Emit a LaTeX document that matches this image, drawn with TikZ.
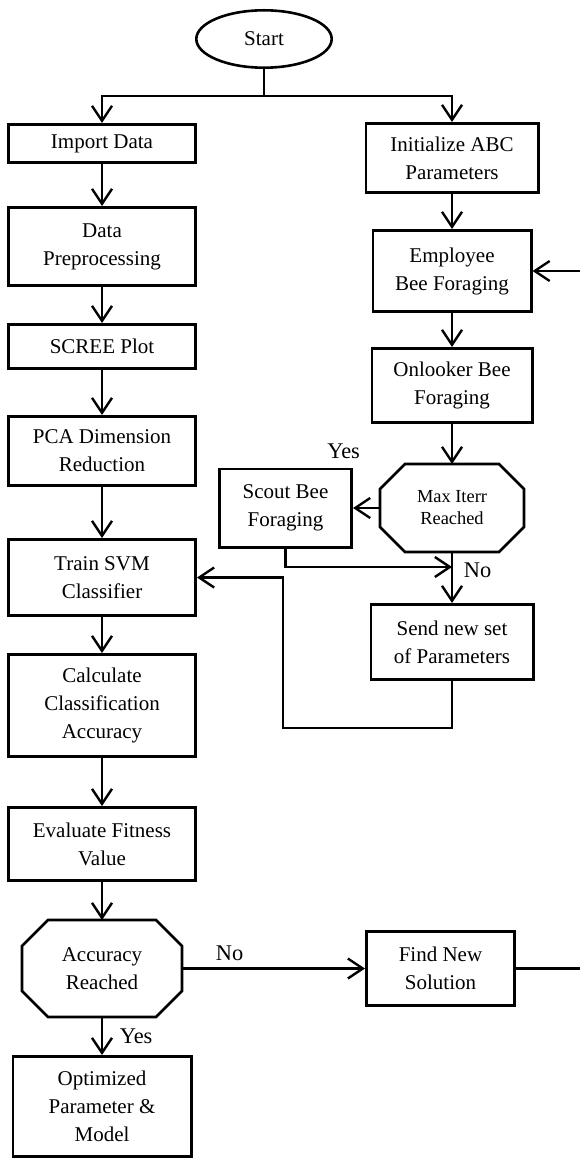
\documentclass[tikz,border=0pt]{standalone}
\usepackage{fontspec}
\setmainfont{Liberation Serif}
\usetikzlibrary{shapes.geometric, arrows.meta, positioning}

% eight-sided frame drawn on a plain node
\newcommand{\octframe}[2]{%
  \draw[line width=1.3pt] ([xshift=#2]#1.north west) -- ([xshift=-#2]#1.north east)
    -- ([yshift=-#2]#1.north east) -- ([yshift=#2]#1.south east)
    -- ([xshift=-#2]#1.south east) -- ([xshift=#2]#1.south west)
    -- ([yshift=#2]#1.south west) -- ([yshift=-#2]#1.north west) -- cycle;}

\begin{document}
\begin{tikzpicture}[
    node distance=1.0cm,
    process/.style={rectangle, draw=black, line width=1.3pt, minimum width=93.7pt, inner sep=1pt, align=center, font=\fontsize{10.5}{14}\selectfont},
    decision/.style={rectangle, line width=1.3pt, inner sep=1pt, align=center, font=\fontsize{10.5}{14}\selectfont},
    terminal/.style={ellipse, draw=black, line width=1.3pt, minimum width=67.7pt, minimum height=28.7pt, inner sep=0pt, font=\fontsize{10.5}{14}\selectfont},
    flow/.style={-{Straight Barb[length=7.5pt,width=10pt]}, line width=1.2pt},
    tag/.style={font=\fontsize{11.2}{13}\selectfont}
]
    \useasboundingbox (0,0) rectangle (289.5pt,-580pt);

    \node (start) [terminal] at (132pt,-19.5pt) {Start};
    \coordinate [below=13.5pt of start] (fork);

    % SVM side
    \node (import) [process, anchor=north, minimum height=19.2pt] at (51pt,-61.5pt) {Import Data};
    \node (prep) [process, below=21pt of import, minimum height=39.2pt] {Data\\Preprocessing};
    \node (scree) [process, below=18pt of prep, minimum height=22.2pt] {SCREE Plot};
    \node (pca) [process, below=22.5pt of scree, minimum height=34.7pt] {PCA Dimension\\Reduction};
    \node (svm) [process, below=25.5pt of pca, minimum height=38.2pt] {Train SVM\\Classifier};
    \node (acc) [process, below=18pt of svm, minimum height=51.2pt] {Calculate\\Classification\\Accuracy};
    \node (fit) [process, below=24pt of acc, minimum height=36.7pt] {Evaluate Fitness\\Value};
    \node (reached) [decision, below=19pt of fit, minimum width=78.7pt, minimum height=47.2pt] {Accuracy\\Reached};
    \node (model) [process, below=19pt of reached, minimum width=89.2pt, minimum height=50.2pt] {Optimized\\Parameter \&\\Model};
    \node (newsol) [process, right=91.5pt of reached, minimum width=74.2pt, minimum height=37.2pt] {Find New\\Solution};

    % ABC side
    \node (init) [process, anchor=north, minimum width=86.2pt, minimum height=34.7pt] at (226pt,-61pt) {Initialize ABC\\Parameters};
    \node (employ) [process, below=17.5pt of init, minimum width=79.2pt, minimum height=40.7pt] {Employee\\Bee Foraging};
    \node (onlook) [process, below=17pt of employ, minimum width=80.2pt, minimum height=37.2pt] {Onlooker Bee\\Foraging};
    \node (maxit) [decision, below=20pt of onlook, minimum width=70.7pt, minimum height=42.7pt, font=\fontsize{9.2}{11}\selectfont] {Max Iterr\\Reached};
    \node (scout) [process, left=13.5pt of maxit, minimum width=66.2pt, minimum height=39.2pt] {Scout Bee\\Foraging};
    \node (send) [process, below=25.5pt of maxit, minimum width=81.2pt, minimum height=37.7pt] {Send new set\\of Parameters};
    \coordinate [below=7.5pt of maxit.south] (join);
    \coordinate (edgein) at (291pt,0 |- employ.east);
    \coordinate (edgeout) at (291pt,0 |- newsol.east);

    \octframe{reached}{13pt}
    \octframe{maxit}{12.5pt}

    \node (yes1) [tag, anchor=south east] at ([xshift=7pt,yshift=1pt]scout.north east) {Yes};

    \draw[line width=1.2pt] (start.south) -- (fork);
    \draw[flow] (fork) -| (import.north);
    \draw[flow] (fork) -| (init.north);

    \draw[flow] (import) -- (prep);
    \draw[flow] (prep) -- (scree);
    \draw[flow] (scree) -- (pca);
    \draw[flow] (pca) -- (svm);
    \draw[flow] (svm) -- (acc);
    \draw[flow] (acc) -- (fit);
    \draw[flow] (fit) -- (reached);
    \draw[flow] (reached) -- node[tag, right=5pt]{Yes} (model);
    \draw[flow] (reached) -- node[tag, above, pos=0.26]{No} (newsol);
    \draw[line width=1.2pt] (newsol.east) -- (edgeout);

    \draw[flow] (init) -- (employ);
    \draw[flow] (edgein) -- (employ.east);
    \draw[flow] (employ) -- (onlook);
    \draw[flow] (onlook) -- (maxit);
    \draw[flow] (maxit) -- (scout);
    \draw[flow] (maxit) -- node[tag, right=2pt, pos=0.35]{No} (send);
    \draw[flow] (scout.south) |- (join);
    \draw[flow] (send.south) -- ++(0,-23.5pt) -| ([xshift=43pt]svm.east) -- (svm.east);
\end{tikzpicture}
\end{document}
